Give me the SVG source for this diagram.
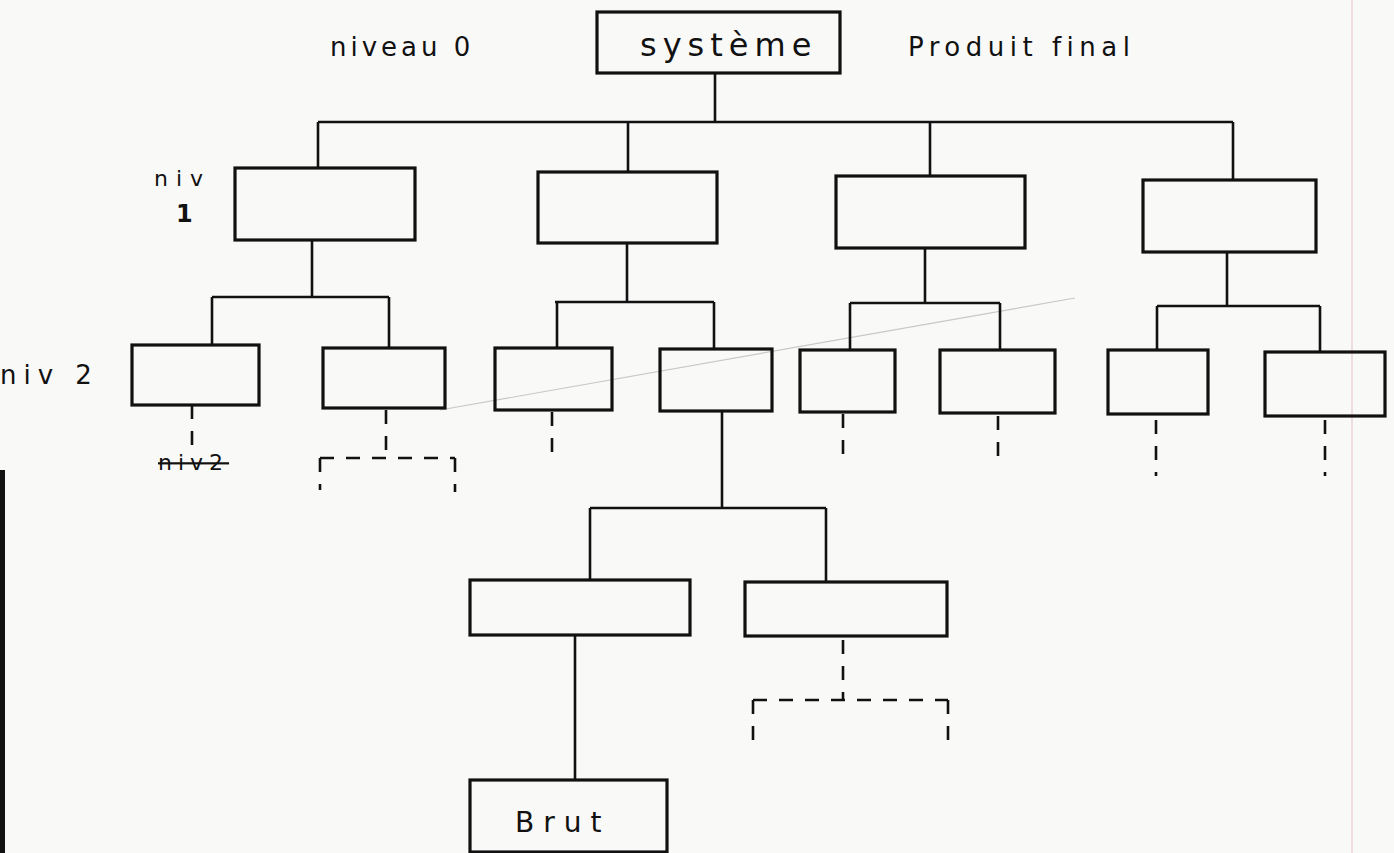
<svg xmlns="http://www.w3.org/2000/svg" width="1394" height="853" viewBox="0 0 1394 853">
<style>
.box{fill:none;stroke:#111;stroke-width:3.2}
.ln{fill:none;stroke:#111;stroke-width:2.6}
.dash{fill:none;stroke:#111;stroke-width:2.6;stroke-dasharray:14 12}
.lbl{font-family:"DejaVu Sans",sans-serif;fill:#111}
</style>
<rect x="0" y="0" width="1394" height="853" fill="#f9f9f8"/>
<rect x="0" y="470" width="5" height="383" fill="#111"/>
<line x1="1352" y1="0" x2="1352" y2="853" stroke="#f0dde2" stroke-width="2"/>
<line x1="440" y1="410" x2="1075" y2="298" stroke="#c8c8c8" stroke-width="1.2"/>

<g id="labels">
<text class="lbl" x="330" y="56" font-size="26" letter-spacing="4">niveau 0</text>
<text class="lbl" x="908" y="56" font-size="26" letter-spacing="5.5">Produit final</text>
<text class="lbl" x="154" y="186" font-size="22" letter-spacing="8">niv</text>
<text class="lbl" x="176" y="222" font-size="24" font-weight="bold">1</text>
<text class="lbl" x="0" y="384" font-size="26" letter-spacing="7">niv 2</text>
<text class="lbl" x="158" y="470" font-size="22" letter-spacing="6" text-decoration="line-through">niv2</text>
</g>

<g id="connectors">
<path class="ln" d="M715 73V122M318 122H1233M318 122V168M628 122V172M930 122V176M1233 122V180"/>
<path class="ln" d="M312 240V297M212 297H389M212 297V345M389 297V348"/>
<path class="ln" d="M627 243V302M555 302H714M557 302V348M714 302V349"/>
<path class="ln" d="M925 248V303M850 303H1000M850 303V350M1000 303V350"/>
<path class="ln" d="M1227 252V306M1157 306H1320M1157 306V350M1320 306V352"/>
<path class="ln" d="M722 411V508M590 508H826M590 508V580M826 508V582"/>
<path class="ln" d="M575 635V780"/>
<path class="dash" d="M192 405V452"/>
<path class="dash" d="M386 410V458M320 458H455M320 458V490M455 458V492"/>
<path class="dash" d="M552 412V456"/>
<path class="dash" d="M843 414V464"/>
<path class="dash" d="M998 416V466"/>
<path class="dash" d="M1156 420V476"/>
<path class="dash" d="M1325 420V476"/>
<path class="dash" d="M843 640V700M753 700H948M753 700V752M948 700V752"/>
</g>

<g id="n-systeme"><rect class="box" x="597" y="12" width="243" height="61"/><text class="lbl" x="640" y="56" font-size="32" letter-spacing="6">système</text></g>
<g id="n1a"><rect class="box" x="235" y="168" width="180" height="72"/></g>
<g id="n1b"><rect class="box" x="538" y="172" width="179" height="71"/></g>
<g id="n1c"><rect class="box" x="836" y="176" width="189" height="72"/></g>
<g id="n1d"><rect class="box" x="1143" y="180" width="173" height="72"/></g>
<g id="n2a"><rect class="box" x="132" y="345" width="127" height="60"/></g>
<g id="n2b"><rect class="box" x="323" y="348" width="122" height="60"/></g>
<g id="n2c"><rect class="box" x="495" y="348" width="117" height="62"/></g>
<g id="n2d"><rect class="box" x="660" y="349" width="112" height="62"/></g>
<g id="n2e"><rect class="box" x="800" y="350" width="95" height="62"/></g>
<g id="n2f"><rect class="box" x="940" y="350" width="115" height="63"/></g>
<g id="n2g"><rect class="box" x="1108" y="350" width="100" height="64"/></g>
<g id="n2h"><rect class="box" x="1265" y="352" width="120" height="64"/></g>
<g id="n3a"><rect class="box" x="470" y="580" width="220" height="55"/></g>
<g id="n3b"><rect class="box" x="745" y="582" width="202" height="54"/></g>
<g id="n-brut"><rect class="box" x="470" y="780" width="197" height="72"/><text class="lbl" x="515" y="832" font-size="28" letter-spacing="9">Brut</text></g>
</svg>
